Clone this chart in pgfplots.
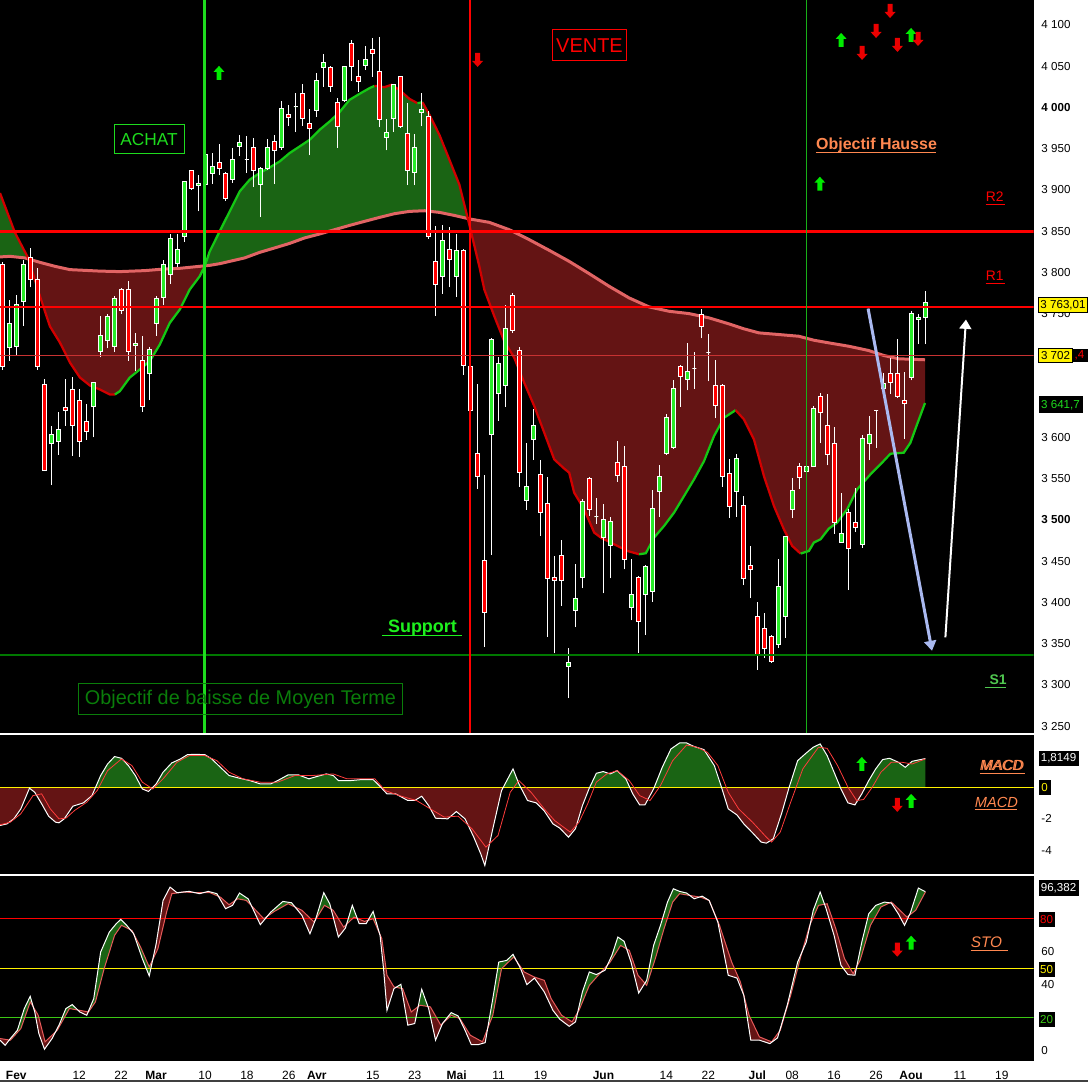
\documentclass[border=0pt]{standalone}
\usepackage{pgfplots}
\pgfplotsset{compat=1.18}
\usepackage{pgfplotstable}
\usepgfplotslibrary{fillbetween}
\usetikzlibrary{arrows.meta}
\usepackage{fontspec}
\setmainfont{Liberation Sans}

\definecolor{dgreen}{RGB}{26,100,20}
\definecolor{dred}{RGB}{100,20,20}
\definecolor{pinkline}{RGB}{225,100,100}
\definecolor{fastgreen}{RGB}{20,200,20}
\definecolor{fastred}{RGB}{210,0,0}
\definecolor{cgreen}{RGB}{40,235,40}
\definecolor{cred}{RGB}{255,0,0}
\definecolor{vgreen}{RGB}{30,220,30}
\definecolor{hgreen}{RGB}{0,120,0}
\definecolor{thinred}{RGB}{200,50,50}
\definecolor{orangetxt}{RGB}{255,136,80}
\definecolor{lblue}{RGB}{170,185,240}
\definecolor{boxgreen}{RGB}{10,125,10}
\definecolor{agreen}{RGB}{0,235,0}
\definecolor{ared}{RGB}{235,0,0}
\definecolor{sigred}{RGB}{255,60,60}
\definecolor{stored}{RGB}{230,90,90}
\definecolor{lvlgreen}{RGB}{60,200,20}
\definecolor{supgreen}{RGB}{30,240,30}
\definecolor{s1green}{RGB}{80,200,80}

\newcommand{\fsz}[1]{\fontsize{#1}{#1}\selectfont}
% #1, #2 are the TikZ coordinates of the two ends of the bar
\newcommand{\candlebody}[3]{%
  \path #1 ++(-1.5pt,0pt) coordinate (cbA);%
  \path #2 ++(1.5pt,0pt) coordinate (cbB);%
  \path[fill=#3, draw=white, line width=0.75pt] (cbA) rectangle (cbB);}
\newcommand{\candlewick}[2]{%
  \path[draw=white, line width=0.75pt] #1 -- #2;}

\pgfplotsset{
  wickbar/.style={error bars/draw error bar/.code 2 args={\candlewick{##1}{##2}}},
  gbody/.style={error bars/draw error bar/.code 2 args={\candlebody{##1}{##2}{cgreen}}},
  rbody/.style={error bars/draw error bar/.code 2 args={\candlebody{##1}{##2}{cred}}},
  candlebars/.style={draw=none, mark=none, forget plot,
     error bars/y dir=plus, error bars/y explicit, error bars/error mark=none},
}

% daily candles, k = trading day index (0 = 28 Jan 2010)
\pgfplotstableread{
k O H L C
1 3709 3767 3693 3738
2 3710 3773 3699 3761
3 3765 3815 3735 3810
7 3592 3614 3542 3604
8 3595 3631 3579 3610
13 3638 3666 3600 3666
14 3704 3747 3697 3723
15 3717 3750 3708 3746
16 3710 3771 3704 3768
19 3711 3726 3681 3714
21 3678 3709 3645 3706
22 3738 3771 3723 3768
23 3769 3815 3760 3810
24 3798 3846 3786 3841
25 3811 3846 3807 3828
26 3844 3910 3837 3910
28 3905 3918 3874 3908
29 3907 3946 3905 3943
30 3920 3945 3907 3928
33 3913 3951 3909 3937
34 3953 3967 3941 3957
35 3937 3965 3921 3937
37 3907 3928 3867 3926
38 3926 3962 3924 3952
40 3951 4008 3949 3999
42 4001 4017 3970 4001
45 3996 4042 3989 4033
46 4049 4065 4025 4054
49 4008 4050 4007 4050
52 4051 4075 4046 4058
55 3964 3986 3948 3970
56 3987 4029 3970 4028
59 3921 3968 3906 3951
60 3994 4017 3977 3997
63 3795 3857 3774 3839
65 3795 3846 3770 3827
70 3603 3721 3458 3719
71 3653 3698 3620 3690
72 3663 3761 3637 3732
75 3523 3593 3512 3540
76 3598 3634 3573 3615
81 3322 3345 3284 3327
82 3390 3446 3370 3405
83 3430 3525 3417 3522
85 3504 3526 3495 3504
86 3479 3519 3411 3501
87 3469 3503 3429 3498
90 3394 3452 3378 3410
92 3409 3445 3361 3443
93 3413 3536 3401 3514
94 3534 3567 3504 3552
95 3580 3628 3579 3624
96 3588 3670 3586 3659
98 3670 3715 3657 3680
99 3684 3703 3659 3684
101 3703 3725 3668 3703
105 3534 3580 3504 3574
111 3349 3453 3345 3419
112 3383 3481 3357 3480
113 3512 3551 3502 3536
115 3559 3566 3559 3565
116 3565 3638 3564 3635
120 3473 3532 3472 3483
123 3470 3603 3466 3599
124 3592 3626 3572 3604
125 3633 3633 3587 3633
126 3659 3678 3652 3665
130 3673 3753 3669 3750
131 3743 3750 3713 3745
132 3745 3778 3713 3763.01
}\greenc
\pgfplotstableread{
k O H L C
0 3810 3813 3682 3686
4 3818 3830 3782 3792
5 3791 3805 3682 3686
6 3664 3671 3559 3560
9 3636 3671 3614 3633
10 3658 3673 3578 3614
11 3645 3659 3576 3595
12 3619 3640 3597 3607
17 3779 3781 3750 3754
18 3779 3790 3693 3704
20 3693 3723 3631 3638
27 3923 3924 3900 3902
31 3933 3956 3918 3926
32 3920 3922 3887 3890
36 3952 3963 3904 3924
39 3959 3967 3907 3948
41 3991 4003 3978 3988
43 4017 4028 3978 3987
44 3981 3998 3942 3974
47 4049 4050 4019 4025
48 4006 4012 3951 3977
50 4078 4082 4032 4050
51 4038 4058 4019 4031
53 4070 4084 4037 4066
54 4044 4085 3976 3986
57 4037 4038 3975 3977
58 3969 4006 3906 3924
61 3989 3996 3841 3843
62 3813 3856 3747 3785
64 3828 3855 3782 3816
66 3826 3828 3676 3687
67 3686 3700 3631 3633
68 3581 3665 3538 3553
69 3451 3554 3346 3388
73 3772 3775 3727 3729
74 3705 3709 3540 3557
77 3555 3573 3481 3509
78 3520 3552 3358 3429
79 3430 3456 3338 3427
80 3457 3475 3396 3427
84 3550 3552 3505 3512
88 3569 3596 3546 3554
89 3565 3590 3440 3452
91 3430 3432 3339 3377
97 3686 3688 3637 3674
100 3749 3756 3720 3734
102 3663 3694 3623 3639
103 3663 3665 3540 3552
104 3556 3574 3502 3516
106 3517 3529 3421 3429
107 3445 3468 3405 3440
108 3383 3400 3318 3336
109 3368 3387 3333 3344
110 3359 3361 3327 3328
114 3565 3569 3538 3551
117 3649 3654 3593 3630
118 3615 3652 3566 3579
119 3592 3612 3483 3497
121 3509 3513 3415 3465
122 3497 3539 3485 3491
127 3678 3696 3653 3667
128 3678 3719 3648 3649
129 3645 3679 3598 3641
}\redc

% fast moving average
\pgfplotstableread{
k P
-0.33 3896.2
1.81 3848.2
3.67 3817.9
5.39 3771.1
6.81 3734.7
8.24 3715.0
9.67 3690.8
11.1 3672.6
12.53 3662.9
13.96 3658.1
15.39 3652.0
16.1 3652.0
16.81 3656.0
18.24 3672.6
19.67 3682.3
21.1 3692.4
22.53 3712.6
23.96 3738.8
25.39 3755.0
26.81 3779.2
28.24 3795.3
28.96 3807.4
29.67 3825.5
31.1 3849.8
32.53 3874.0
33.96 3898.2
35.39 3912.4
36.81 3920.5
38.24 3927.2
39.67 3934.5
41.1 3944.7
42.53 3952.7
43.96 3960.8
45.39 3972.9
46.81 3982.9
48.24 3994.3
49.67 4009.2
51.1 4016.5
52.53 4023.4
53.24 4026.2
54.67 4024.6
55.67 4027.4
56.81 4021.3
58.24 4010.4
59.39 4005.2
60.1 4006.4
61.1 3991.1
62.53 3966.8
63.96 3936.6
65.39 3906.3
66.1 3882.1
66.81 3857.9
68.24 3807.4
68.96 3779.2
70.39 3746.8
71.81 3716.6
73.24 3696.5
74.67 3666.2
76.1 3637.9
77.53 3605.7
78.96 3573.3
80.39 3562.1
81.1 3557.2
81.81 3533.0
83.24 3512.8
84.67 3484.6
85.63 3478.5
87.53 3470.4
89.43 3462.3
91.1 3458.3
92.06 3459.5
93.24 3478.5
94.67 3492.6
96.1 3508.8
97.53 3528.9
98.96 3549.1
100.39 3571.3
101.81 3601.5
103.24 3623.8
104.91 3633.0
106.1 3621.8
107.53 3597.5
108.96 3553.1
110.39 3516.8
111.81 3488.6
113.0 3468.4
114.2 3459.1
115.39 3462.3
116.1 3472.5
117.06 3476.5
118.24 3489.4
119.43 3496.7
120.86 3512.8
122.29 3537.0
124.2 3555.2
125.63 3567.3
127.06 3580.2
128.96 3581.4
129.91 3593.5
130.86 3615.7
132.0 3641.7
}\fastt

% slow moving average
\pgfplotstableread{
k P
-0.33 3818.8
1.1 3819.5
3.24 3817.6
5.39 3812.2
7.53 3807.4
9.67 3803.4
13.96 3801.6
16.81 3801.0
20.39 3802.2
23.24 3804.2
25.39 3805.0
26.81 3806.2
28.24 3807.4
29.67 3808.6
31.1 3810.6
32.53 3813.4
34.67 3817.6
36.81 3824.3
38.96 3829.7
41.1 3835.2
43.24 3841.8
45.39 3846.6
47.53 3851.8
49.67 3857.0
51.81 3861.9
53.96 3866.7
56.1 3871.2
58.24 3874.0
60.39 3874.8
62.53 3872.8
64.67 3869.1
66.81 3864.9
69.67 3860.7
72.53 3851.8
75.39 3839.7
78.24 3826.8
81.1 3813.4
83.96 3798.5
86.81 3783.2
89.67 3769.1
92.53 3758.2
95.39 3752.9
98.24 3750.1
101.1 3744.9
103.96 3737.6
106.1 3731.6
108.24 3726.7
111.1 3724.7
113.96 3722.6
116.1 3717.8
118.24 3714.6
121.1 3710.5
123.96 3705.3
126.1 3699.3
128.24 3695.3
132.0 3694.1
}\slowt

% MACD line
\pgfplotstableread{
k v
-0.33 -2.42
0.66 -2.32
1.65 -2.0
2.65 -1.37
3.89 -0.06
4.64 -0.32
5.63 -1.05
6.62 -1.83
7.61 -2.21
8.11 -2.25
8.86 -2.0
10.1 -1.2
11.6 -0.99
12.83 -0.53
14.07 0.74
15.06 1.47
16.06 1.94
17.05 1.83
18.04 1.37
19.03 0.74
20.03 -0.11
20.92 -0.27
22.01 0.21
23.0 0.95
24.25 1.54
25.49 1.79
26.48 2.06
27.48 2.08
28.97 2.06
29.96 1.79
31.2 1.26
32.44 0.74
33.93 0.57
35.42 0.42
36.91 0.21
38.4 0.21
39.39 0.42
40.88 0.78
42.37 0.78
43.86 0.53
45.1 0.69
46.34 0.84
47.34 0.74
48.08 0.42
49.82 0.42
51.31 0.48
53.05 0.48
54.04 0.05
55.03 -0.42
56.27 -0.42
58.01 -0.84
59.0 -0.84
60.0 -0.57
60.99 -1.16
61.98 -1.96
63.72 -2.0
64.96 -1.54
66.2 -2.0
67.45 -3.16
68.44 -4.21
69.03 -4.95
70.17 -2.63
71.42 -0.21
73.06 1.16
73.9 0.21
75.14 -0.84
76.38 -0.99
77.53 -1.5
78.77 -2.32
79.76 -2.59
81.0 -3.16
81.99 -2.63
82.99 -1.16
83.98 -0.05
84.98 0.88
85.97 0.99
86.96 0.84
87.96 1.05
89.2 0.53
90.19 -0.42
91.18 -1.12
91.93 -1.12
93.17 -0.11
94.41 1.26
95.65 2.42
96.89 2.8
97.89 2.8
98.88 2.59
100.37 2.38
101.86 1.37
102.85 0.05
103.85 -1.37
105.09 -1.75
106.08 -2.32
107.32 -2.88
108.56 -3.47
109.31 -3.54
110.3 -3.26
111.54 -1.58
112.53 -0.05
113.78 1.68
115.02 2.17
116.01 2.53
117.0 2.74
118.0 2.0
118.99 0.95
119.98 -0.11
120.98 -0.99
121.97 -1.12
122.96 -0.42
123.95 0.42
124.95 1.16
125.94 1.75
126.93 1.83
128.18 1.58
129.17 1.26
130.16 1.64
131.15 1.73
132.05 1.81
}\macdw

% MACD signal
\pgfplotstableread{
k v
-0.33 -2.38
1.16 -2.21
2.65 -1.68
4.39 -0.53
5.63 -0.42
6.87 -1.37
8.11 -2.0
9.1 -1.96
10.34 -1.47
12.08 -0.95
13.57 -0.21
15.06 1.05
17.05 1.79
18.54 1.37
20.03 0.32
21.52 -0.11
23.0 0.53
24.99 1.58
26.73 2.0
28.97 2.0
30.7 1.68
32.44 0.95
34.43 0.53
36.91 0.32
39.39 0.32
41.87 0.74
44.36 0.74
47.34 0.84
49.32 0.53
53.3 0.53
54.78 -0.21
56.77 -0.53
59.25 -0.84
61.24 -1.37
63.22 -1.89
65.21 -1.83
67.2 -2.63
69.18 -3.79
70.92 -3.05
72.66 -0.32
73.9 0.42
75.64 -0.32
77.53 -1.37
79.02 -2.11
81.25 -2.84
82.5 -2.21
83.74 -1.05
84.98 0.32
86.47 0.84
87.96 1.05
89.69 0.42
91.18 -0.53
92.67 -0.84
94.16 0.11
95.9 1.68
97.89 2.67
99.38 2.53
100.87 2.21
102.36 1.37
103.85 -0.32
105.34 -1.37
107.32 -2.21
109.31 -3.16
110.05 -3.47
111.29 -2.84
112.78 -0.95
114.52 1.16
116.76 2.53
118.0 2.46
119.49 1.37
120.98 0.0
122.22 -0.84
123.21 -0.78
124.45 0.0
125.69 0.95
127.18 1.58
128.67 1.58
130.16 1.47
132.05 1.79
}\macdr

% Stochastic %K
\pgfplotstableread{
k v
-0.33 6.3
0.41 3.2
1.16 7.3
2.15 12.3
3.15 25.5
3.99 32.9
4.64 23.4
5.23 10.3
6.03 0.8
7.12 7.3
8.11 15.4
9.1 25.5
10.0 27.9
11.09 23.4
12.08 21.4
13.08 31.5
14.07 59.8
15.31 71.9
16.3 77.0
16.95 79.6
17.79 76.0
18.79 70.9
20.03 55.8
21.02 45.3
22.01 64.8
23.0 91.1
24.0 99.2
24.99 95.8
26.73 96.6
28.22 95.2
29.46 96.6
30.7 95.2
31.94 86.1
32.94 88.1
33.93 95.6
35.17 92.1
36.91 76.4
38.4 84.0
40.14 90.5
41.38 89.7
42.87 82.0
44.01 70.9
44.85 80.0
45.99 95.8
46.84 89.1
48.08 68.9
49.08 74.3
50.07 88.1
51.06 77.0
52.05 77.0
53.05 84.4
54.04 69.9
54.54 49.7
55.03 24.4
56.03 37.6
57.02 40.2
58.01 15.4
59.0 16.4
60.0 37.2
60.99 25.5
61.98 6.3
62.97 16.4
64.22 23.0
65.21 21.0
66.2 12.3
67.09 3.6
68.09 3.6
69.08 4.8
70.17 31.5
71.02 53.7
72.16 54.7
73.06 58.4
74.15 49.7
75.04 40.0
76.13 44.0
77.53 35.6
78.77 24.4
79.76 19.0
81.1 14.7
82.0 17.4
82.99 35.6
83.98 47.7
84.98 46.1
86.22 48.7
87.21 57.8
88.06 68.9
88.95 66.3
89.94 53.7
91.04 34.9
92.18 42.6
93.17 63.8
94.16 76.0
95.16 90.1
96.0 98.2
96.89 96.6
97.89 95.6
98.98 92.1
100.12 93.7
101.12 91.1
102.36 78.0
103.85 45.7
105.09 44.0
106.08 33.5
107.07 6.3
108.31 6.3
109.8 4.2
110.9 7.7
112.29 27.5
113.78 53.7
115.02 65.9
116.01 85.1
117.0 96.2
117.85 86.1
118.99 69.9
119.98 51.7
120.98 46.1
121.97 45.7
122.96 65.9
123.95 83.0
124.95 88.1
126.2 90.1
127.18 89.5
128.18 83.0
129.07 76.0
129.91 83.6
131.05 98.6
132.05 96.4
}\stok

% Stochastic %D
\pgfplotstableread{
k v
-0.33 7.3
1.16 6.3
2.65 13.3
4.0 29.5
5.14 21.4
6.12 5.3
7.86 12.3
9.6 25.5
11.09 24.4
12.33 23.4
13.32 29.5
14.57 49.7
16.06 69.9
17.05 76.0
18.54 72.9
19.78 62.8
21.02 50.7
22.26 61.8
23.5 84.0
24.25 95.2
25.99 96.2
27.97 95.8
29.71 95.8
31.2 93.1
32.44 88.5
33.68 92.1
34.92 91.1
37.41 80.0
38.9 84.4
40.88 89.1
42.87 85.1
44.6 78.0
46.09 88.1
47.34 85.1
48.83 74.9
50.32 81.0
51.81 78.4
53.05 80.0
54.29 67.9
55.03 45.7
56.03 38.6
57.27 37.6
58.5 23.4
59.75 27.5
61.24 26.5
62.73 15.4
64.22 21.4
65.46 19.4
66.95 9.3
68.69 5.3
70.17 21.4
71.42 49.7
73.16 56.8
74.65 47.7
76.13 44.6
77.53 42.6
78.52 31.5
80.01 21.4
81.5 17.4
82.5 24.4
83.98 39.6
85.47 46.7
86.96 53.7
88.45 63.8
89.69 60.8
90.94 45.7
92.18 39.6
93.42 55.8
94.66 73.9
95.9 90.1
96.89 95.2
98.38 94.1
99.87 93.1
101.12 91.1
102.6 76.0
104.34 53.7
105.59 41.6
106.83 21.4
108.31 8.3
110.05 5.3
111.29 12.3
112.78 33.5
114.27 57.8
115.51 76.0
116.76 88.1
118.0 89.1
119.24 73.9
120.48 55.8
121.72 46.7
122.71 54.7
124.2 76.0
125.69 87.1
127.18 90.1
128.42 85.1
129.41 81.0
130.66 85.1
132.05 96.2
}\stod

\tikzset{
 upar/.pic={\fill[agreen] (0,0) -- (5.5,6) -- (2.5,6) -- (2.5,14) -- (-2.5,14) -- (-2.5,6) -- (-5.5,6) -- cycle;},
 dnar/.pic={\fill[ared] (0,0) -- (5.5,-6) -- (2.5,-6) -- (2.5,-14) -- (-2.5,-14) -- (-2.5,-6) -- (-5.5,-6) -- cycle;}
}

\pgfplotsset{
 panel/.style={
  anchor=north west, scale only axis, width=776.25pt,
  xmin=-0.33, xmax=147.53,
  axis background/.style={fill=black},
  axis y line*=right, axis line style={draw=none},
  tick align=outside, major tick length=3.75pt, minor tick length=3.75pt,
  every tick/.style={black, line width=0.75pt},
  yticklabel style={font=\fsz{8.7}, text=black, inner sep=2pt},
 }
}

\begin{document}
\begin{tikzpicture}
% white margins only (never over the panels)
\fill[white] (776.25pt,0pt) rectangle (817.5pt,-812.25pt);
\fill[white] (0pt,-796.5pt) rectangle (776.25pt,-812.25pt);
\fill[white] (0pt,-550.5pt) rectangle (776.25pt,-552pt);
\fill[white] (0pt,-656.25pt) rectangle (776.25pt,-657.75pt);
\fill[black!75] (0pt,-810.75pt) rectangle (817.5pt,-812.25pt);

% ---------------- main price panel ----------------
\begin{axis}[panel, at={(0pt,0pt)}, height=550.5pt,
  ymin=3241.6, ymax=4130.3, axis x line=none,
  ytick={3250,3300,...,4100},
  yticklabels={3 250,3 300,3 350,3 400,3 450,\textbf{3 500},3 550,3 600,{},{},3 750,3 800,3 850,3 900,3 950,\textbf{4 000},4 050,4 100},
]
\addplot[draw=none, name path=fast, forget plot] table[x=k,y=P]{\fastt};
\addplot[draw=none, name path=slow, forget plot] table[x=k,y=P]{\slowt};
\addplot[draw=none] fill between[of=fast and slow, split,
  every even segment/.style={fill=dgreen}, every odd segment/.style={fill=dred}];
\addplot[pinkline, line width=2.25pt] table[x=k,y=P]{\slowt};
\addplot[fastred, line width=1.7pt, restrict x to domain=-1:16.11] table[x=k,y=P]{\fastt};
\addplot[fastgreen, line width=1.7pt, restrict x to domain=16.09:53.25] table[x=k,y=P]{\fastt};
\addplot[fastred, line width=1.7pt, restrict x to domain=53.23:59.4] table[x=k,y=P]{\fastt};
\addplot[fastgreen, line width=1.7pt, restrict x to domain=59.38:60.11] table[x=k,y=P]{\fastt};
\addplot[fastred, line width=1.7pt, restrict x to domain=60.09:91.11] table[x=k,y=P]{\fastt};
\addplot[fastgreen, line width=1.7pt, restrict x to domain=91.09:104.92] table[x=k,y=P]{\fastt};
\addplot[fastred, line width=1.7pt, restrict x to domain=104.9:114.21] table[x=k,y=P]{\fastt};
\addplot[fastgreen, line width=1.7pt, restrict x to domain=114.19:133] table[x=k,y=P]{\fastt};
% wicks
\addplot[candlebars, wickbar] table[x=k, y=L, y error expr=\thisrow{H}-\thisrow{L}]{\greenc};
\addplot[candlebars, wickbar] table[x=k, y=L, y error expr=\thisrow{H}-\thisrow{L}]{\redc};
% bodies
\addplot[candlebars, gbody] table[x=k, y=O, y error expr=\thisrow{C}-\thisrow{O}]{\greenc};
\addplot[candlebars, rbody] table[x=k, y=C, y error expr=\thisrow{O}-\thisrow{C}]{\redc};
% levels
\addplot[red, line width=2pt] coordinates {(-0.33,3850) (147.53,3850)};
\addplot[red, line width=1.5pt] coordinates {(-0.33,3758) (147.53,3758)};
\addplot[thinred, line width=0.75pt] coordinates {(-0.33,3699) (147.53,3699)};
\addplot[hgreen, line width=2pt] coordinates {(-0.33,3336) (147.53,3336)};
\addplot[vgreen, line width=1.75pt] coordinates {(28.91,3241.6) (28.91,4130.3)};
\addplot[red, line width=1.5pt] coordinates {(66.91,3241.6) (66.91,4130.3)};
\addplot[vgreen!80!black, line width=0.75pt] coordinates {(115.0,3241.6) (115.0,4130.3)};
\end{axis}

% ---------------- MACD panel ----------------
\begin{axis}[panel, at={(0pt,-552pt)}, height=104.25pt,
  ymin=-5.477, ymax=3.304, axis x line=none,
  ytick={-4,-2,0,2}, yticklabels={-4,-2,{},{}},
  minor ytick={-5,-3,-1,1,3},
]
\addplot[draw=none, name path=mw, forget plot] table[x=k,y=v]{\macdw};
\addplot[draw=none, name path=zero, forget plot] coordinates {(-0.33,0) (132.05,0)};
\addplot[draw=none] fill between[of=mw and zero, split,
  every even segment/.style={fill=dred}, every odd segment/.style={fill=dgreen}];
\addplot[yellow, line width=0.75pt] coordinates {(-0.33,0) (147.53,0)};
\addplot[white, line width=0.75pt] table[x=k,y=v]{\macdw};
\addplot[sigred, line width=0.6pt] table[x=k,y=v]{\macdr};
\end{axis}

% ---------------- Stochastic panel ----------------
\begin{axis}[panel, at={(0pt,-657.75pt)}, height=138.75pt,
  ymin=-6.06, ymax=106.06,
  axis x line*=bottom,
  ytick={0,20,...,100}, yticklabels={0,{},40,60,{},{}},
  minor ytick={10,30,50,70,90},
  xtick={2,11,17,22,29,35,41,45,53,59,65,71,77,86,95,101,108,113,119,125,130,137,143},
  xticklabels={\textbf{Fev},12,22,\textbf{Mar},10,18,26,\textbf{Avr},15,23,\textbf{Mai},11,19,\textbf{Jun},14,22,\textbf{Jul},08,16,26,\textbf{Aou},11,19},
  xticklabel style={font=\fsz{9}, text=black, inner sep=2pt, text height=7pt, text depth=1pt, yshift=-1pt},
]
\addplot[draw=none, name path=sk, forget plot] table[x=k,y=v]{\stok};
\addplot[draw=none, name path=sd, forget plot] table[x=k,y=v]{\stod};
\addplot[draw=none] fill between[of=sk and sd, split,
  every even segment/.style={fill=dred}, every odd segment/.style={fill=dgreen}];
\addplot[red, line width=0.75pt] coordinates {(-0.33,80) (147.53,80)};
\addplot[yellow, line width=0.75pt] coordinates {(-0.33,50) (147.53,50)};
\addplot[lvlgreen, line width=0.75pt] coordinates {(-0.33,20) (147.53,20)};
\addplot[stored, line width=0.75pt] table[x=k,y=v]{\stod};
\addplot[white, line width=0.75pt] table[x=k,y=v]{\stok};
\end{axis}

% ---------------- annotations (pixel frame) ----------------
\begin{scope}[x=0.75pt,y=-0.75pt]
 \draw[vgreen, line width=0.75pt] (114.3,124.3) rectangle (184.3,153.3);
 \node[text=vgreen, font=\fsz{13}] at (149.3,139.3) {ACHAT};
 \draw[red, line width=0.75pt] (553.3,29.3) rectangle (627.3,60.3);
 \node[text=red, font=\fsz{15}] at (590.3,45.3) {VENTE};
 \node[text=orangetxt, font=\fsz{12}\bfseries, anchor=base west, inner sep=0pt] at (817,150) {Objectif Hausse};
 \draw[orangetxt, line width=0.75pt] (817,152.7) -- (937,152.7);
 \node[text=red, font=\fsz{10.4}, anchor=base west, inner sep=0pt] at (987,201.7) {R2};
 \draw[red, line width=0.75pt] (987,205) -- (1006,205);
 \node[text=red, font=\fsz{10.4}, anchor=base west, inner sep=0pt] at (987,281) {R1};
 \draw[red, line width=0.75pt] (987,284) -- (1006,284);
 \node[text=supgreen, font=\fsz{13.5}\bfseries, anchor=base west, inner sep=0pt] at (388.3,633.3) {Support};
 \draw[supgreen, line width=0.75pt] (383,636.7) -- (463,636.7);
 \draw[boxgreen, line width=0.75pt] (78.3,684) rectangle (403.3,715.7);
 \node[text=boxgreen, font=\fsz{14.9}] at (240.8,700) {Objectif de baisse de Moyen Terme};
 \node[text=s1green, font=\fsz{10.5}\bfseries, anchor=base west, inner sep=0pt] at (990.7,685.7) {S1};
 \draw[s1green, line width=0.75pt] (986,688.3) -- (1007.7,688.3);
 \pic at (219.3,66) {upar};
 \pic at (842.3,33) {upar};
 \pic at (912.3,28) {upar};
 \pic at (821,177) {upar};
 \pic at (863,758) {upar};
 \pic at (912.4,795) {upar};
 \pic at (912.4,937) {upar};
 \pic at (478.3,67) {dnar};
 \pic at (863.3,60) {dnar};
 \pic at (877.3,38) {dnar};
 \pic at (891.3,18) {dnar};
 \pic at (898.7,52) {dnar};
 \pic at (919.3,46) {dnar};
 \pic at (898.5,813) {dnar};
 \pic at (898.5,958) {dnar};
 \draw[lblue, line width=2.25pt, -{Triangle[length=7.5pt,width=9pt]}] (869.3,309) -- (933.3,651.7);
 \draw[white, line width=1.5pt, -{Triangle[length=7pt,width=9pt]}] (946.7,638.3) -- (967.3,320);
 \node[text=orangetxt, font=\fsz{11}\itshape, anchor=base west, inner sep=0pt] at (981,771.7) {MACD};
 \node[text=orangetxt, font=\fsz{11}\itshape, anchor=base west, inner sep=0pt] at (982.2,771.7) {MACD};
 \draw[orangetxt, line width=0.75pt] (981,774.3) -- (1026,774.3);
 \node[text=orangetxt, font=\fsz{11}\itshape, anchor=base west, inner sep=0pt] at (976,808.3) {MACD};
 \draw[orangetxt, line width=0.75pt] (976,811) -- (1018,811);
 \node[text=orangetxt, font=\fsz{11.5}\itshape, anchor=base west, inner sep=0pt] at (972,949) {STO};
 \draw[orangetxt, line width=0.75pt] (972,951.7) -- (1009,951.7);
 \fill[yellow] (1040,297.7) rectangle (1089,312.7);
 \draw[black, line width=0.75pt] (1040,297.7) rectangle (1089,312.7);
 \node[text=black, font=\fsz{8.7}] at (1064.5,305.2) {3 763,01};
 \fill[yellow] (1040,349) rectangle (1074,363);
 \draw[black, line width=0.75pt] (1040,349) rectangle (1074,363);
 \node[text=black, font=\fsz{8.7}] at (1057,356) {3 702};
 \fill[black] (1074,349) rectangle (1090,363);
 \node[text=red, font=\fsz{8.7}] at (1081,356) {,4};
 \fill[black] (1040,397) rectangle (1084,414);
 \node[text=vgreen, font=\fsz{8.7}] at (1062,405.5) {3 641,7};
 \fill[black] (1040,752) rectangle (1080,767);
 \node[text=white, font=\fsz{8.7}] at (1060,759.5) {1,8149};
 \fill[black] (1040,781) rectangle (1052,796);
 \node[text=yellow, font=\fsz{8.7}] at (1046,788.5) {0};
 \fill[black] (1040,881) rectangle (1080,897);
 \node[text=white, font=\fsz{8.7}] at (1060,889) {96,382};
 \fill[black] (1040,913) rectangle (1056,928);
 \node[text=red, font=\fsz{8.7}] at (1048,920.5) {80};
 \fill[black] (1040,963) rectangle (1056,978);
 \node[text=yellow, font=\fsz{8.7}] at (1048,970.5) {50};
 \fill[black] (1040,1013) rectangle (1056,1028);
 \node[text=lvlgreen, font=\fsz{8.7}] at (1048,1020.5) {20};
\end{scope}
\useasboundingbox (0pt,0pt) rectangle (817.5pt,-812.25pt);
\end{tikzpicture}
\end{document}
